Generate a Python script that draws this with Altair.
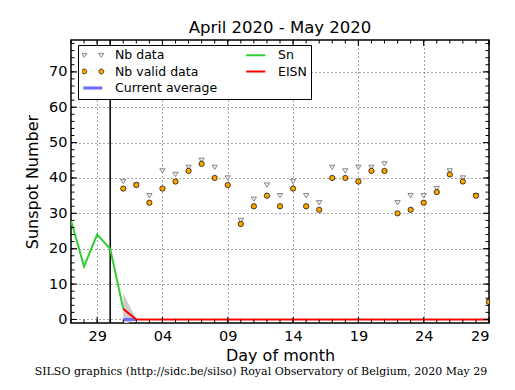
import altair as alt
import pandas as pd

title_text = "April 2020 - May 2020"
footer_text = "SILSO graphics (http://sidc.be/silso) Royal Observatory of Belgium, 2020 May 29"

# Sn (green) daily values
sn_dates = ["2020-04-27", "2020-04-28", "2020-04-29", "2020-04-30", "2020-05-01"]
sn_values = [28, 15, 24, 20, 3]

# daily observations
obs_dates = ["2020-05-01", "2020-05-02", "2020-05-03", "2020-05-04", "2020-05-05",
             "2020-05-06", "2020-05-07", "2020-05-08", "2020-05-09", "2020-05-10",
             "2020-05-11", "2020-05-12", "2020-05-13", "2020-05-14", "2020-05-15",
             "2020-05-16", "2020-05-17", "2020-05-18", "2020-05-19", "2020-05-20",
             "2020-05-21", "2020-05-22", "2020-05-23", "2020-05-24", "2020-05-25",
             "2020-05-26", "2020-05-27", "2020-05-28", "2020-05-29"]
nb_data = [39, 38, 35, 42, 41, 43, 45, 43, 40, 28, 34, 38, 35, 39, 35, 33, 43, 42, 43,
           43, 44, 33, 35, 35, 37, 42, 40, 35, 5]
nb_valid = [37, 38, 33, 37, 39, 42, 44, 40, 38, 27, 32, 35, 32, 37, 32, 31, 40, 40, 39,
            42, 42, 30, 31, 33, 36, 41, 39, 35, 5]
eisn_values = [3, 0, 0, 0, 0, 0, 0, 0, 0, 0, 0, 0, 0, 0, 0, 0, 0, 0, 0, 0, 0, 0, 0, 0,
               0, 0, 0, 0, 0]

avg_dates = ["2020-05-01", "2020-05-02"]
avg_values = [0, 0]

band_dates = ["2020-05-01", "2020-05-02"]
band_low = [-1.5, 0]
band_high = [7.5, 0]

separator_dates = ["2020-04-30"]

x_domain_dates = ["2020-04-27", "2020-05-29"]
x_tick_dates = ["2020-04-29", "2020-05-04", "2020-05-09", "2020-05-14",
                "2020-05-19", "2020-05-24", "2020-05-29"]
x_tick_labels = ["29", "04", "09", "14", "19", "24", "29"]
y_ticks = [0, 10, 20, 30, 40, 50, 60, 70]
y_domain = [-1, 79]

series_order = ["Nb data", "Nb valid data", "Current average", "Sn", "EISN"]
series_colors = ["#707070", "#000000", "#6b6bff", "#33cc33", "#ff0000"]
point_series = ["Nb data", "Nb valid data"]
point_fills = ["#eeeeee", "#ffa500"]

REF = pd.Timestamp("2020-04-30")


def day(d):
    return (pd.Timestamp(d) - REF).days


W, H = 418, 283
FONT = "DejaVu Sans"

x_domain = [day(d) for d in x_domain_dates]
x_tick_vals = [day(d) for d in x_tick_dates]

label_expr = "''"
for v, lab in zip(reversed(x_tick_vals), reversed(x_tick_labels)):
    label_expr = f"datum.value == {v} ? '{lab}' : ({label_expr})"

x_scale = alt.Scale(domain=x_domain, nice=False, zero=False)
y_scale = alt.Scale(domain=y_domain, nice=False, zero=False)

x_axis = alt.Axis(values=x_tick_vals, labelExpr=label_expr, title="Day of month",
                  grid=True, ticks=False, domain=False, labelPadding=6, titlePadding=5)
y_axis = alt.Axis(values=y_ticks, title="Sunspot Number", grid=True, ticks=False,
                  domain=False, labelPadding=4, titlePadding=8)

tri_path = "M-1,-0.8L1,-0.8L0,0.8Z"
leg_tri = "M-1.18,-0.2L-0.62,-0.2L-0.9,0.22Z M0.62,-0.2L1.18,-0.2L0.9,0.22Z"
leg_circ = ("M-1.16,0A0.26,0.26 0 1,0 -0.64,0A0.26,0.26 0 1,0 -1.16,0Z "
            "M0.64,0A0.26,0.26 0 1,0 1.16,0A0.26,0.26 0 1,0 0.64,0Z")
shape_expr = (f"datum.value == 'Nb data' ? '{leg_tri}' : "
              f"(datum.value == 'Nb valid data' ? '{leg_circ}' : 'stroke')")
fill_expr = ("datum.value == 'Nb data' ? '#eeeeee' : "
             "(datum.value == 'Nb valid data' ? '#ffa500' : 'transparent')")
sw_expr = ("datum.value == 'Nb data' ? 0.8 : (datum.value == 'Nb valid data' ? 0.7 : "
           "(datum.value == 'Current average' ? 3 : 2))")

legend = alt.Legend(
    title=None, orient="none", legendX=7, legendY=5, columns=2, columnPadding=27,
    rowPadding=3.5, clipHeight=12,
    padding=4, strokeColor="black", fillColor="white", cornerRadius=0,
    symbolSize=361, symbolOffset=4.5, labelFont=FONT, labelFontSize=12.5, labelColor="black",
    labelOffset=16, labelLimit=300, symbolOpacity=1,
    symbolType={"expr": shape_expr},
    symbolFillColor={"expr": fill_expr},
    symbolStrokeWidth={"expr": sw_expr},
)

stroke_enc = alt.Stroke("series:N", scale=alt.Scale(domain=series_order, range=series_colors),
                        legend=legend)
fill_enc = alt.Fill("series:N", scale=alt.Scale(domain=point_series, range=point_fills),
                    legend=None)

x_enc = alt.X("day:Q", scale=x_scale, axis=x_axis)

band_df = pd.DataFrame({"day": [day(d) for d in band_dates], "low": band_low, "high": band_high})
sep_df = pd.DataFrame({"day": [day(d) for d in separator_dates]})
avg_df = pd.DataFrame({"day": [day(d) for d in avg_dates], "value": avg_values,
                       "series": "Current average"})
sn_df = pd.DataFrame({"day": [day(d) for d in sn_dates], "value": sn_values, "series": "Sn"})
eisn_df = pd.DataFrame({"day": [day(d) for d in obs_dates], "value": eisn_values,
                        "series": "EISN"})
tri_df = pd.DataFrame({"day": [day(d) for d in obs_dates], "value": nb_data,
                       "series": "Nb data"})
circ_df = pd.DataFrame({"day": [day(d) for d in obs_dates], "value": nb_valid,
                        "series": "Nb valid data"})

band = alt.Chart(band_df).mark_area(color="#cccccc", clip=True).encode(
    x=x_enc, y=alt.Y("low:Q", scale=y_scale, axis=y_axis), y2="high:Q")

sep = alt.Chart(sep_df).mark_rule(color="black", strokeWidth=1.5).encode(x="day:Q")

avg_line = alt.Chart(avg_df).mark_line(strokeWidth=3, clip=True).encode(
    x="day:Q", y="value:Q", stroke=stroke_enc)
sn_line = alt.Chart(sn_df).mark_line(strokeWidth=2, clip=True).encode(
    x="day:Q", y="value:Q", stroke=stroke_enc)
eisn_line = alt.Chart(eisn_df).mark_line(strokeWidth=2, clip=True).encode(
    x="day:Q", y="value:Q", stroke=stroke_enc)

tri = alt.Chart(tri_df).mark_point(shape=tri_path, filled=True, size=29,
                                   strokeWidth=0.8, opacity=1, clip=True).encode(
    x="day:Q", y="value:Q", stroke=stroke_enc, fill=fill_enc)
circ = alt.Chart(circ_df).mark_point(shape="circle", filled=True, size=28,
                                     strokeWidth=0.7, opacity=1, clip=True).encode(
    x="day:Q", y="value:Q", stroke=stroke_enc, fill=fill_enc)

# inward ticks on all four sides
x_minor_df = pd.DataFrame({"day": list(range(x_domain[0], x_domain[1] + 1))})
x_major_df = pd.DataFrame({"day": x_tick_vals})
y_minor_df = pd.DataFrame({"v": list(range(0, 79, 2))})
y_major_df = pd.DataFrame({"v": y_ticks})


def xticks(df, length):
    b = alt.Chart(df).mark_rule(color="black", strokeWidth=1).encode(
        x="day:Q", y=alt.value(H), y2=alt.value(H - length))
    t = alt.Chart(df).mark_rule(color="black", strokeWidth=1).encode(
        x="day:Q", y=alt.value(0), y2=alt.value(length))
    return [b, t]


def yticks(df, length):
    l = alt.Chart(df).mark_rule(color="black", strokeWidth=1).encode(
        y="v:Q", x=alt.value(0), x2=alt.value(length))
    r = alt.Chart(df).mark_rule(color="black", strokeWidth=1).encode(
        y="v:Q", x=alt.value(W), x2=alt.value(W - length))
    return [l, r]


ticks = (xticks(x_minor_df, 3.5) + xticks(x_major_df, 6)
         + yticks(y_minor_df, 3.5) + yticks(y_major_df, 6))

title = alt.Chart(pd.DataFrame({"t": [title_text]})).mark_text(
    font=FONT, fontSize=16.5, color="black", align="center", baseline="alphabetic"
).encode(text="t:N", x=alt.value(W / 2), y=alt.value(-7.5))

footer = alt.Chart(pd.DataFrame({"t": [footer_text]})).mark_text(
    font="DejaVu Serif", fontSize=11, color="black", align="center", baseline="alphabetic"
).encode(text="t:N", x=alt.value(W / 2 - 19), y=alt.value(H + 52))

chart = alt.layer(band, sep, avg_line, sn_line, eisn_line, tri, circ, *ticks,
                  title, footer).properties(
    width=W, height=H,
    autosize=alt.AutoSizeParams(type="none"),
    padding={"left": 63, "top": 32, "right": 18, "bottom": 54},
).configure_view(stroke="black", strokeWidth=1.5).configure_axis(
    labelFont=FONT, labelFontSize=14.5, labelColor="black", titleFont=FONT,
    titleFontSize=16, titleFontWeight="normal", titleColor="black",
    gridColor="black", gridDash=[1, 3], gridWidth=0.7, gridOpacity=1,
)

chart.save("out.html", embed_options={"renderer": "svg", "actions": False})
